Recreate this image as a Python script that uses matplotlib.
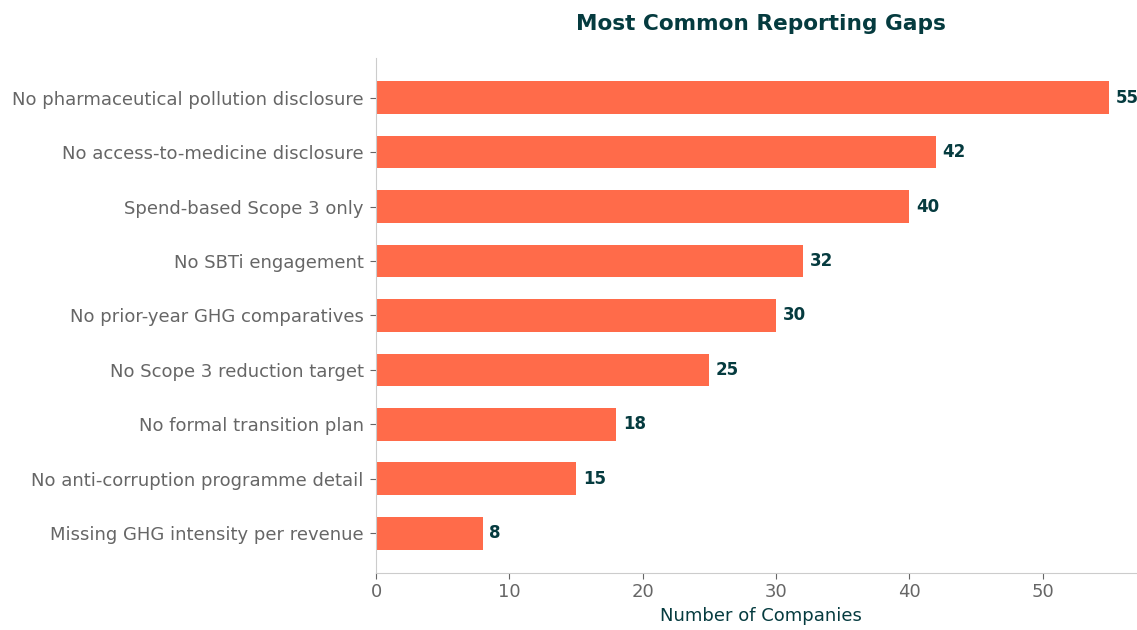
import matplotlib.pyplot as plt

gaps = [
    "No pharmaceutical pollution disclosure",
    "No access-to-medicine disclosure",
    "Spend-based Scope 3 only",
    "No SBTi engagement",
    "No prior-year GHG comparatives",
    "No Scope 3 reduction target",
    "No formal transition plan",
    "No anti-corruption programme detail",
    "Missing GHG intensity per revenue",
]
counts = [55, 42, 40, 32, 30, 25, 18, 15, 8]

bar_color = "#FF6B4A"
dark = "#053B3F"
grey = "#666666"

fig = plt.figure(figsize=(11.37, 6.3), dpi=100)
ax = fig.add_axes([0.3307, 0.0905, 0.6773, 0.8175])

ypos = list(range(len(gaps)))
ax.barh(ypos, counts, height=0.6, color=bar_color)
ax.set_yticks(ypos)
ax.set_yticklabels(gaps)
ax.invert_yaxis()

for y, v in zip(ypos, counts):
    ax.text(v + 0.5, y, str(v), va="center", ha="left",
            fontsize=12, fontweight="bold", color=dark)

ax.set_title("Most Common Reporting Gaps", fontsize=15.6, fontweight="bold",
             color=dark, pad=20)
ax.set_xlabel("Number of Companies", fontsize=13, color=dark)

for s in ["top", "right"]:
    ax.spines[s].set_visible(False)
for s in ["left", "bottom"]:
    ax.spines[s].set_color("#cccccc")
ax.tick_params(axis="both", colors=grey, labelsize=13, length=4)
ax.tick_params(axis="y", pad=5)

fig.savefig("out.png", dpi=100)
